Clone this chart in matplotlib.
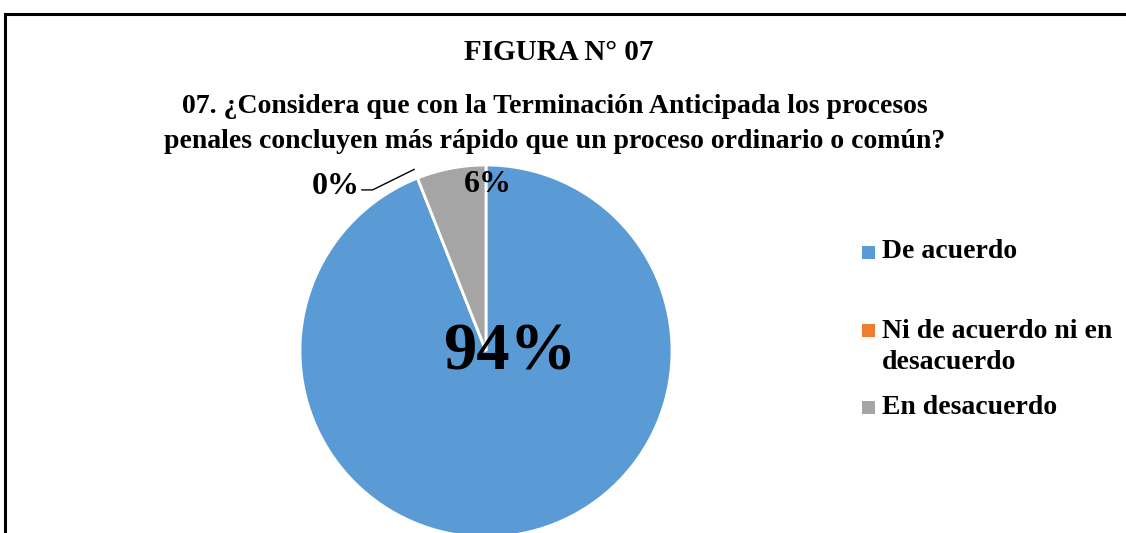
import numpy as np
import matplotlib
matplotlib.use("Agg")
import matplotlib.pyplot as plt
from matplotlib.patches import Rectangle

categories = ["De acuerdo", "Ni de acuerdo ni en\ndesacuerdo", "En desacuerdo"]
percentages = [94, 0, 6]
colors = ["#5B9BD5", "#ED7D31", "#A5A5A5"]

title = "FIGURA N° 07"
subtitle = ("07. ¿Considera que con la Terminación Anticipada los procesos\n"
            "penales concluyen más rápido que un proceso ordinario o común?")

plt.rcParams["font.family"] = ["Liberation Serif", "DejaVu Serif"]
plt.rcParams["font.weight"] = "bold"

W, H = 1126, 533
fig = plt.figure(figsize=(W / 100, H / 100), dpi=100)

# outer frame (right and bottom run off the image)
fig.patches.append(Rectangle((5 / W, -0.1), 1.2, (H - 14) / H + 0.1,
                             transform=fig.transFigure, fill=False,
                             edgecolor="black", linewidth=2.2))

fig.text(559 / W, 1 - 53 / H, title, ha="center", va="center", fontsize=21, fontweight="bold")
fig.text(555 / W, 1 - 124 / H, subtitle, ha="center", va="center", fontsize=20,
         fontweight="bold", linespacing=1.52)

# pie axes: center at (486, 351) px, radius 186 px
cx, cy, r = 486, 351, 186
ax = fig.add_axes([(cx - r) / W, (H - cy - r) / H, 2 * r / W, 2 * r / H])
wedges, _ = ax.pie(percentages, colors=colors, startangle=90, counterclock=False,
                   radius=1, wedgeprops=dict(edgecolor="white", linewidth=2))
ax.set_xlim(-1, 1)
ax.set_ylim(-1, 1)
ax.axis("off")

# data labels
ax.text(0.13, -0.01, f"{percentages[0]}%", ha="center", va="center", fontsize=48, fontweight="bold")
ax.text(0.01, 0.895, f"{percentages[2]}%", ha="center", va="center", fontsize=23, fontweight="bold")
ax.text(-0.81, 0.885, f"{percentages[1]}%", ha="center", va="center", fontsize=23, fontweight="bold")
ang = np.deg2rad(wedges[1].theta1)
ax.plot([-0.667, -0.61, 1.05 * np.cos(ang)], [0.866, 0.866, 1.05 * np.sin(ang)],
        color="black", linewidth=1, clip_on=False)

# legend
leg_y = [252, 330, 407]
text_y = [252, 347, 407]
for name, col, y, ty in zip(categories, colors, leg_y, text_y):
    fig.patches.append(Rectangle((862 / W, 1 - (y + 7) / H), 13 / W, 13 / H,
                                 transform=fig.transFigure, facecolor=col, edgecolor="none"))
    fig.text(882 / W, 1 - ty / H, name, ha="left", va="center",
             fontsize=20, fontweight="bold", linespacing=1.32,
             transform=fig.transFigure)

fig.savefig("out.png", dpi=100)
